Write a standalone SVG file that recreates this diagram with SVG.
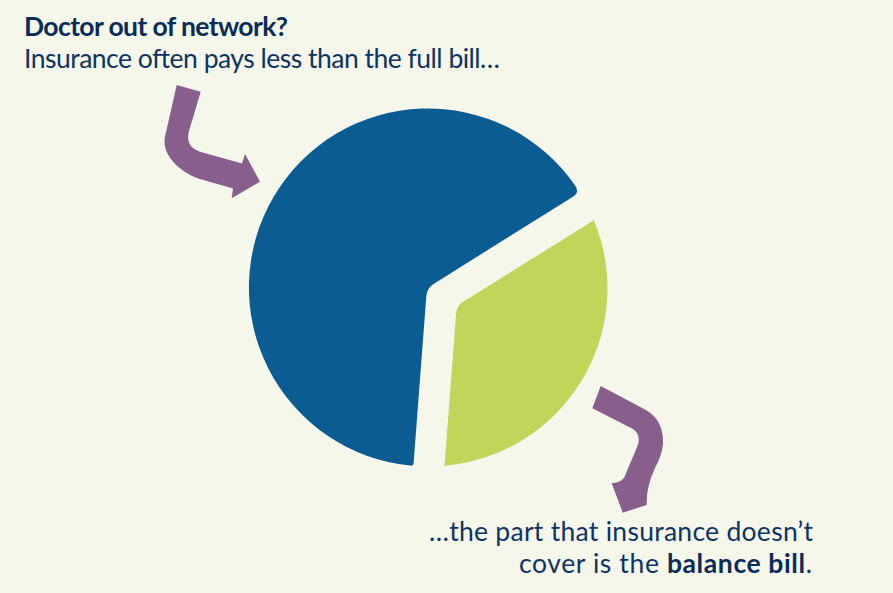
<svg xmlns="http://www.w3.org/2000/svg" width="893" height="593" viewBox="0 0 893 593">
  <style>
    .t { font-family: Lato, "Liberation Sans", sans-serif; font-size: 26.5px; fill: #0d3463; }
    .b { font-weight: 700; fill: #0b2c58; }
    .arrow { fill: #875e8c; }
  </style>
  <rect width="893" height="593" fill="#f5f7eb"/>

  <g id="header">
    <text class="t b" x="24" y="35.7" textLength="264">Doctor out of network?</text>
    <text class="t" x="24" y="68.3" textLength="476">Insurance often pays less than the full bill…</text>
  </g>

  <g id="slice-insurance">
    <path fill="#0b5c92" d="M 575.4,186.0 A 179 179 0 1 0 410.35,465.6 Q 413.4,465.9 413.6,462.9 L 426.35,295.8 A 15.5 15.5 0 0 1 433.6,283.9 L 573.0,196.7 Q 579.8,192.5 575.4,186.0 Z"/>
  </g>

  <g id="slice-balance">
    <path fill="#c2d55b" d="M 463.55,301.6 L 593.9,220.2 A 178 178 0 0 1 444.5,465.7 L 456.1,313.95 Q 456.7,305.9 463.55,301.6 Z"/>
  </g>

  <g id="connectors">
    <path class="arrow" d="M 176.7,85 L 200.7,91.7 L 189.3,130 Q 184.3,147.1 200,151.7 L 242,163.5 L 245,154 L 260,181.7 L 231.7,198.3 L 233,188.5 L 203.3,180 C 178.4,172.9 161.2,153.4 165,136.7 Z"/>
    <path class="arrow" d="M 600.7,386 L 645,409.5 Q 664,420 663,444 Q 662,455 655,468 Q 646,487 646.7,505 L 622.7,512.7 L 611.7,483.3 Q 620,483 624,478 L 637.5,446 Q 641.5,435 633,429 L 592.3,408.3 Z"/>
  </g>

  <g id="caption">
    <text class="t" x="813" y="540.7" text-anchor="end" textLength="384">…the part that insurance doesn’t</text>
    <text class="t" x="812" y="572.7" text-anchor="end" textLength="293">cover is the <tspan class="b">balance bill</tspan>.</text>
  </g>
</svg>
